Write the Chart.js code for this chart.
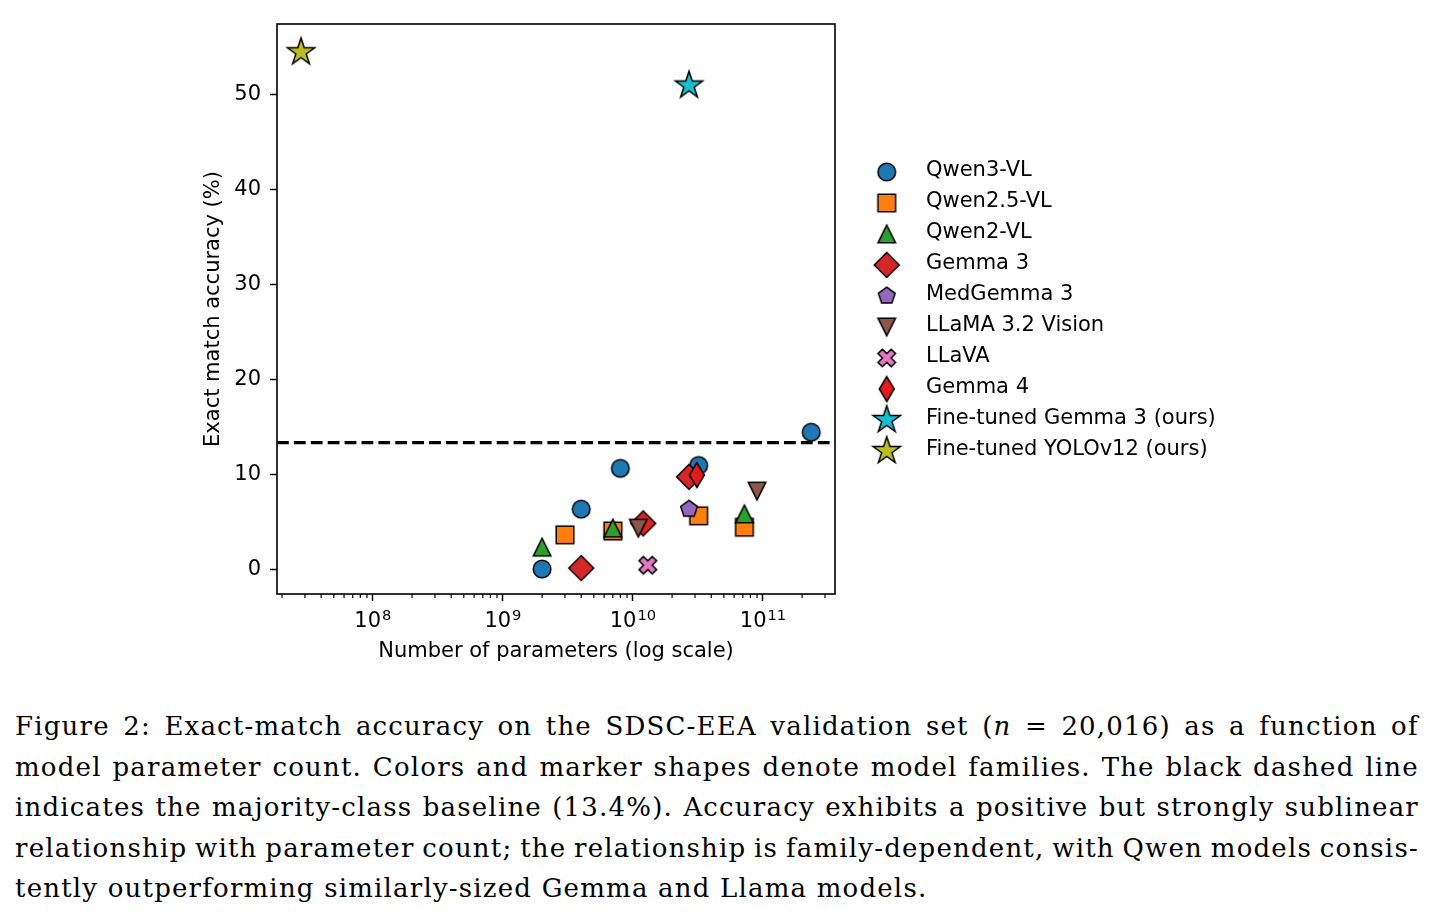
<!DOCTYPE html>
<html>
<head>
<meta charset="utf-8">
<script src="https://cdn.jsdelivr.net/npm/chart.js@4.4.0/dist/chart.umd.min.js"></script>
<style>
  body { margin: 0; background: #fff; }
  #wrap { position: absolute; left: 0; top: 0; width: 1434px; height: 680px; }
  #caption {
    position: absolute; left: 15px; top: 706px; width: 1404px;
    font-family: 'DejaVu Serif', serif; font-size: 26px; line-height: 40.5px;
    letter-spacing: 1.2px; color: #000;
  }
  #caption .line { display: flex; justify-content: space-between; white-space: nowrap; }
  #caption .last { display: block; white-space: nowrap; }
</style>
</head>
<body>
<div id="wrap"><canvas id="chart"></canvas></div>
<div id="caption"></div>
<script>
// parameter counts and exact match accuracy (%) per family
const qwen3Params = [2e9, 4e9, 8e9, 32e9, 235e9];
const qwen3Acc = [0.1, 6.4, 10.7, 11.0, 14.5];
const qwen25Params = [3e9, 7e9, 32e9, 72e9];
const qwen25Acc = [3.7, 4.1, 5.7, 4.5];
const qwen2Params = [2e9, 7e9, 72e9];
const qwen2Acc = [2.4, 4.4, 5.9];
const gemma3Params = [4e9, 12e9, 27e9];
const gemma3Acc = [0.2, 4.9, 9.8];
const medgemmaParams = [27e9];
const medgemmaAcc = [6.4];
const llamaParams = [11e9, 90e9];
const llamaAcc = [4.4, 8.3];
const llavaParams = [13e9];
const llavaAcc = [0.5];
const gemma4Params = [31e9];
const gemma4Acc = [10.0];
const ftGemmaParams = [27e9];
const ftGemmaAcc = [51.0];
const ftYoloParams = [2.8e7];
const ftYoloAcc = [54.5];

const baseline = 13.4;

const familyNames = ['Qwen3-VL', 'Qwen2.5-VL', 'Qwen2-VL', 'Gemma 3', 'MedGemma 3',
  'LLaMA 3.2 Vision', 'LLaVA', 'Gemma 4', 'Fine-tuned Gemma 3 (ours)', 'Fine-tuned YOLOv12 (ours)'];
const familyParams = [qwen3Params, qwen25Params, qwen2Params, gemma3Params, medgemmaParams,
  llamaParams, llavaParams, gemma4Params, ftGemmaParams, ftYoloParams];
const familyAcc = [qwen3Acc, qwen25Acc, qwen2Acc, gemma3Acc, medgemmaAcc,
  llamaAcc, llavaAcc, gemma4Acc, ftGemmaAcc, ftYoloAcc];

const familyColors = ['#1f77b4', '#ff7f0e', '#2ca02c', '#d62728', '#9467bd',
  '#8c564b', '#e377c2', '#e41a1c', '#17becf', '#bcbd22'];
const familyMarkers = ['o', 's', '^', 'D', 'p', 'v', 'X', 'd', '*', '*'];

// axis limits and ticks
const xMin = 1.83e7, xMax = 3.58e11;
const yMin = -2.53, yMax = 57.47;
const xTicks = [1e8, 1e9, 1e10, 1e11];
const xTickExp = ['8', '9', '10', '11'];
const yTicks = [0, 10, 20, 30, 40, 50];

const captionLines = [
  'Figure 2: Exact-match accuracy on the SDSC-EEA validation set (<i>n</i> = 20,016) as a function of',
  'model parameter count. Colors and marker shapes denote model families. The black dashed line',
  'indicates the majority-class baseline (13.4%). Accuracy exhibits a positive but strongly sublinear',
  'relationship with parameter count; the relationship is family-dependent, with Qwen models consis-',
  'tently outperforming similarly-sized Gemma and Llama models.'
];

// caption, justified line by line like the typeset original
const cap = document.getElementById('caption');
captionLines.forEach((line, i) => {
  const div = document.createElement('div');
  if (i === captionLines.length - 1) {
    div.className = 'last';
    div.innerHTML = line;
  } else {
    div.className = 'line';
    line.split(' ').forEach(w => {
      const s = document.createElement('span');
      s.innerHTML = w;
      div.appendChild(s);
    });
  }
  cap.appendChild(div);
});

const FONT = 21;
const MARKER = 17.6;
const STAR = 28.6;

function markerPath(ctx, m, s) {
  const h = s / 2;
  ctx.beginPath();
  if (m === 'o') {
    ctx.arc(0, 0, h, 0, Math.PI * 2);
  } else if (m === 's') {
    ctx.rect(-h, -h, s, s);
  } else if (m === '^' || m === 'v') {
    const k = m === '^' ? 1 : -1;
    ctx.moveTo(0, -h * k);
    ctx.lineTo(-h, h * k);
    ctx.lineTo(h, h * k);
    ctx.closePath();
  } else if (m === 'D' || m === 'd') {
    const r = h * Math.SQRT2;
    const rx = m === 'd' ? r * 0.6 : r;
    ctx.moveTo(0, -r);
    ctx.lineTo(rx, 0);
    ctx.lineTo(0, r);
    ctx.lineTo(-rx, 0);
    ctx.closePath();
  } else if (m === 'p') {
    for (let i = 0; i < 5; i++) {
      const a = -Math.PI / 2 + i * 2 * Math.PI / 5;
      ctx.lineTo(h * Math.cos(a), h * Math.sin(a));
    }
    ctx.closePath();
  } else if (m === 'X') {
    const pts = [[-0.25, -0.5], [0, -0.25], [0.25, -0.5], [0.5, -0.25], [0.25, 0], [0.5, 0.25],
      [0.25, 0.5], [0, 0.25], [-0.25, 0.5], [-0.5, 0.25], [-0.25, 0], [-0.5, -0.25]];
    pts.forEach(p => ctx.lineTo(p[0] * s, p[1] * s));
    ctx.closePath();
  } else if (m === '*') {
    const inner = h * 0.381966;
    for (let i = 0; i < 10; i++) {
      const a = -Math.PI / 2 + i * Math.PI / 5;
      const r = i % 2 === 0 ? h : inner;
      ctx.lineTo(r * Math.cos(a), r * Math.sin(a));
    }
    ctx.closePath();
  }
}

function makeMarker(m, color) {
  const s = m === '*' ? STAR : MARKER;
  const c = document.createElement('canvas');
  const dim = Math.ceil(s * 1.5 / 2) * 2 + 4;
  c.width = dim; c.height = dim;
  const ctx = c.getContext('2d');
  ctx.translate(dim / 2, dim / 2);
  markerPath(ctx, m, s);
  ctx.fillStyle = color;
  ctx.fill();
  ctx.lineWidth = 1.5;
  ctx.lineJoin = 'miter';
  ctx.strokeStyle = '#000';
  ctx.stroke();
  return c;
}

const markerImages = familyMarkers.map((m, i) => makeMarker(m, familyColors[i]));

const datasets = familyNames.map((name, i) => ({
  type: 'scatter',
  label: name,
  data: familyParams[i].map((p, j) => ({ x: p, y: familyAcc[i][j] })),
  pointStyle: markerImages[i],
  pointRadius: 10,
  order: 20 - i
}));

datasets.push({
  type: 'line',
  label: 'Majority-class baseline',
  data: [{ x: xMin, y: baseline }, { x: xMax, y: baseline }],
  borderColor: '#000',
  borderWidth: 3.2,
  borderDash: [11.8, 5.1],
  pointRadius: 0,
  order: -1
});

const framePlugin = {
  id: 'frame',
  afterDraw(chart) {
    const ctx = chart.ctx;
    const a = chart.chartArea;
    const xs = chart.scales.x;
    ctx.save();
    ctx.strokeStyle = '#000';
    ctx.fillStyle = '#000';

    // minor ticks on the log axis
    ctx.lineWidth = 1.2;
    for (let d = 7; d <= 11; d++) {
      for (let k = 2; k <= 9; k++) {
        const v = k * Math.pow(10, d);
        if (v < xMin || v > xMax) continue;
        const px = xs.getPixelForValue(v);
        ctx.beginPath();
        ctx.moveTo(px, a.bottom);
        ctx.lineTo(px, a.bottom + 4);
        ctx.stroke();
      }
    }

    // power-of-ten tick labels with raised exponent
    const base = FONT + "px 'DejaVu Sans'";
    const sup = (FONT * 0.7) + "px 'DejaVu Sans'";
    ctx.textBaseline = 'alphabetic';
    ctx.textAlign = 'left';
    xTicks.forEach((v, i) => {
      ctx.font = base;
      const w1 = ctx.measureText('10').width;
      ctx.font = sup;
      const w2 = ctx.measureText(xTickExp[i]).width;
      const left = xs.getPixelForValue(v) - (w1 + w2 + 1) / 2;
      ctx.font = base;
      ctx.fillText('10', left, a.bottom + 33);
      ctx.font = sup;
      ctx.fillText(xTickExp[i], left + w1 + 1, a.bottom + 25.5);
    });

    ctx.lineWidth = 1.6;
    ctx.strokeRect(a.left, a.top, a.right - a.left, a.bottom - a.top);

    // legend
    const rowH = 31.0;
    const n = familyNames.length;
    const y0 = (a.top + a.bottom) / 2 - (n - 1) / 2 * rowH + 2.5;
    ctx.font = base;
    ctx.textBaseline = 'middle';
    familyNames.forEach((name, i) => {
      const y = y0 + i * rowH;
      const img = markerImages[i];
      ctx.drawImage(img, a.right + 51.7 - img.width / 2, y - img.height / 2);
      ctx.fillText(name, a.right + 91, y - 1);
    });
    ctx.restore();
  }
};

Chart.defaults.font.family = "'DejaVu Sans'";
Chart.defaults.font.size = FONT;
Chart.defaults.color = '#000';

new Chart(document.getElementById('chart'), {
  data: { datasets: datasets },
  options: {
    responsive: true,
    maintainAspectRatio: false,
    animation: false,
    events: [],
    layout: { padding: { left: 190, top: 24, right: 599, bottom: 0 } },
    plugins: { legend: { display: false }, tooltip: { enabled: false } },
    scales: {
      x: {
        type: 'logarithmic',
        min: xMin,
        max: xMax,
        afterBuildTicks: (scale) => { scale.ticks = xTicks.map(v => ({ value: v })); },
        afterFit: (scale) => { scale.height = 86; },
        ticks: { maxRotation: 0, autoSkip: false, callback: () => '' },
        grid: { drawOnChartArea: false, tickLength: 7, tickColor: '#000', tickWidth: 1.5 },
        border: { display: false },
        title: { display: true, text: 'Number of parameters (log scale)', padding: { top: 0, bottom: 16 } }
      },
      y: {
        type: 'linear',
        min: yMin,
        max: yMax,
        afterBuildTicks: (scale) => { scale.ticks = yTicks.map(v => ({ value: v })); },
        afterFit: (scale) => { scale.width = 87; },
        ticks: { padding: 9 },
        grid: { drawOnChartArea: false, tickLength: 7, tickColor: '#000', tickWidth: 1.5 },
        border: { display: false },
        title: { display: true, text: 'Exact match accuracy (%)', padding: { top: 11, bottom: 0 } }
      }
    }
  },
  plugins: [framePlugin]
});
</script>
</body>
</html>
